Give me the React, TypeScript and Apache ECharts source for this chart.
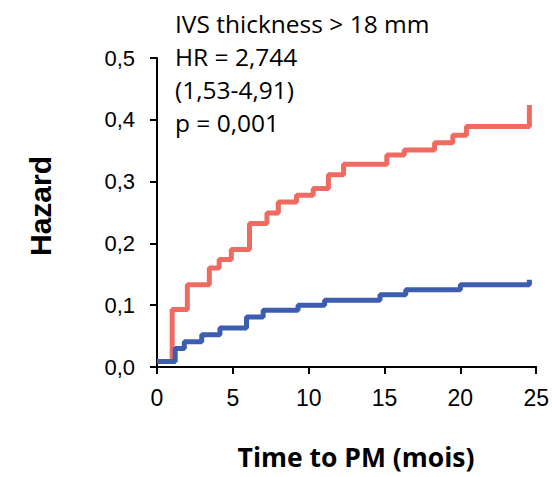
import React, { useEffect, useRef } from "react";
import * as echarts from "echarts";

// Red group: IVS thickness > 18 mm  [time (mois), hazard]
const redTimes = [0, 1.0, 2.0, 3.45, 4.1, 4.9, 6.1, 7.25, 8.0, 9.2, 10.3, 11.3, 12.3, 15.15, 16.3, 18.3, 19.5, 20.4, 24.55];
const redHazard = [0.009, 0.093, 0.133, 0.16, 0.174, 0.19, 0.232, 0.249, 0.267, 0.278, 0.289, 0.311, 0.328, 0.343, 0.351, 0.363, 0.375, 0.389, 0.424];

// Blue group: IVS thickness <= 18 mm
const blueTimes = [0, 1.2, 1.8, 2.95, 4.15, 5.9, 7.0, 9.3, 11.05, 14.7, 16.4, 20.0, 24.55];
const blueHazard = [0.009, 0.03, 0.041, 0.052, 0.063, 0.081, 0.092, 0.1, 0.108, 0.117, 0.125, 0.133, 0.141];

const annotationLines = ["IVS thickness > 18 mm", "HR = 2,744", "(1,53-4,91)", "p = 0,001"];
const xTitle = "Time to PM (mois)";
const yTitle = "Hazard";

export default function App() {
  const ref = useRef<HTMLDivElement>(null);
  useEffect(() => {
    if (!ref.current) return;
    const chart = echarts.init(ref.current, undefined, { renderer: "svg" });
    const redData = redTimes.map((t, i) => [t, redHazard[i]]);
    const blueData = blueTimes.map((t, i) => [t, blueHazard[i]]);
    const axisFont = { fontFamily: "Liberation Sans, Arial, sans-serif", color: "#000" };
    chart.setOption({
      animation: false,
      backgroundColor: "#fff",
      grid: { left: 157, right: 15, top: 58, bottom: 110, containLabel: false },
      xAxis: {
        type: "value",
        min: 0,
        max: 25,
        interval: 5,
        splitLine: { show: false },
        axisLine: { lineStyle: { color: "#000", width: 2 } },
        axisTick: { show: true, inside: false, length: 7, lineStyle: { color: "#000", width: 2 } },
        axisLabel: { ...axisFont, fontSize: 23, margin: 19 },
      },
      yAxis: {
        type: "value",
        min: 0,
        max: 0.5,
        interval: 0.1,
        splitLine: { show: false },
        axisLine: { show: true, lineStyle: { color: "#000", width: 2 } },
        axisTick: { show: true, inside: false, length: 7, lineStyle: { color: "#000", width: 2 } },
        axisLabel: {
          ...axisFont,
          fontSize: 22,
          margin: 22,
          formatter: (v: number) => v.toFixed(1).replace(".", ","),
        },
      },
      series: [
        {
          type: "line",
          step: "end",
          data: redData,
          showSymbol: false,
          lineStyle: { color: "#ef6b62", width: 5 },
          z: 2,
        },
        {
          type: "line",
          step: "end",
          data: blueData,
          showSymbol: false,
          lineStyle: { color: "#3d5db1", width: 5 },
          z: 3,
        },
      ],
      graphic: [
        ...annotationLines.map((s, i) => ({
          type: "text",
          x: 175,
          y: 23 + i * 33,
          style: {
            text: s,
            fontFamily: "Open Sans, sans-serif",
            fontSize: 24.5,
            fill: "#000",
            verticalAlign: "middle",
          },
        })),
        {
          type: "text",
          x: 356,
          y: 457,
          style: {
            text: xTitle,
            fontFamily: "Open Sans, sans-serif",
            fontWeight: "bold",
            fontSize: 26.5,
            lineHeight: 30,
            fill: "#000",
            align: "center",
            verticalAlign: "middle",
          },
        },
        {
          type: "text",
          x: 40,
          y: 206,
          rotation: Math.PI / 2,
          style: {
            text: yTitle,
            fontFamily: "Liberation Sans, Arial, sans-serif",
            fontWeight: "bold",
            fontSize: 30,
            fill: "#000",
            align: "center",
            verticalAlign: "middle",
          },
        },
      ],
    });
    return () => chart.dispose();
  }, []);
  return <div ref={ref} style={{ position: "fixed", left: 0, top: 0, width: 552, height: 477 }} />;
}
